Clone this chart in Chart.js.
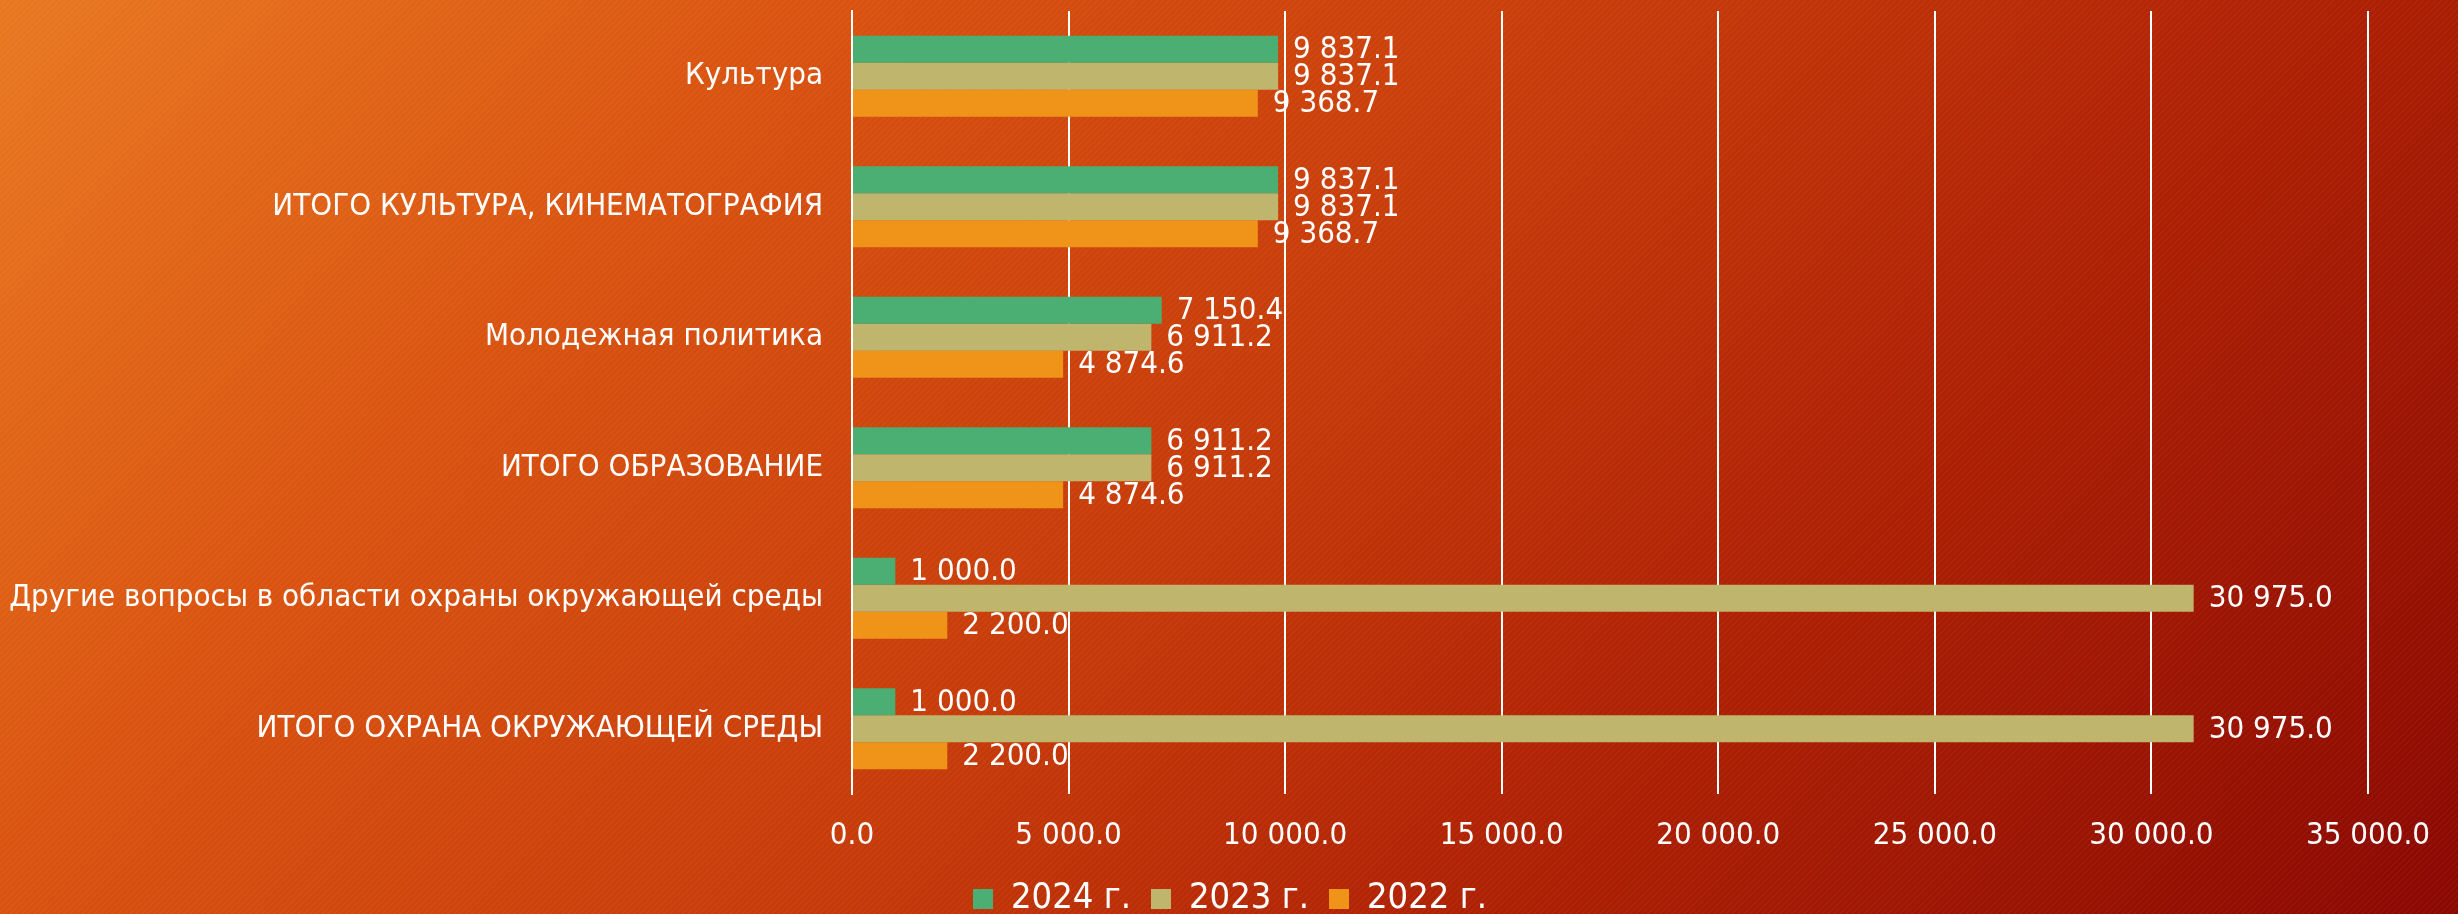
<!DOCTYPE html>
<html>
<head>
<meta charset="utf-8">
<script src="https://cdn.jsdelivr.net/npm/chart.js@4/dist/chart.umd.min.js"></script>
<style>
  html, body { margin: 0; padding: 0; overflow: hidden; background: #c63a09; }
  canvas { display: block; }
</style>
</head>
<body>
<canvas id="chart" width="2458" height="914"></canvas>
<script>
const categories = [
  'Культура',
  'ИТОГО КУЛЬТУРА, КИНЕМАТОГРАФИЯ',
  'Молодежная политика',
  'ИТОГО ОБРАЗОВАНИЕ',
  'Другие вопросы в области охраны окружающей среды',
  'ИТОГО ОХРАНА ОКРУЖАЮЩЕЙ СРЕДЫ'
];
const seriesNames = ['2024 г.', '2023 г.', '2022 г.'];
const values2024 = [9837.1, 9837.1, 7150.4, 6911.2, 1000.0, 1000.0];
const values2023 = [9837.1, 9837.1, 6911.2, 6911.2, 30975.0, 30975.0];
const values2022 = [9368.7, 9368.7, 4874.6, 4874.6, 2200.0, 2200.0];
const xTicks = [0, 5000, 10000, 15000, 20000, 25000, 30000, 35000];

const FONT = "'DejaVu Sans Condensed', 'DejaVu Sans', sans-serif";

// 9837.1 -> "9 837.1"
function fmt(v) {
  const parts = v.toFixed(1).split('.');
  return parts[0].replace(/\B(?=(\d{3})+(?!\d))/g, ' ') + '.' + parts[1];
}

const background = {
  id: 'background',
  beforeDraw(chart) {
    const { ctx, width, height } = chart;
    ctx.save();
    const g = ctx.createLinearGradient(0, 0, 1774, 1650);
    g.addColorStop(0, '#e97820');
    g.addColorStop(0.25, '#d9520f');
    g.addColorStop(0.5, '#c63a09');
    g.addColorStop(0.7, '#ae2003');
    g.addColorStop(1, '#8a0700');
    ctx.fillStyle = g;
    ctx.fillRect(0, 0, width, height);
    // faint diagonal stripes
    ctx.strokeStyle = 'rgba(255,255,255,0.04)';
    ctx.lineWidth = 2;
    ctx.beginPath();
    for (let x = -height; x < width; x += 6) {
      ctx.moveTo(x, height);
      ctx.lineTo(x + height, 0);
    }
    ctx.stroke();
    ctx.restore();
  }
};

// centre the legend on the page, not on the padded box
const legendShift = {
  id: 'legendShift',
  afterLayout(chart) {
    if (chart.legend) {
      chart.legend.left += 46;
      chart.legend.right += 46;
    }
  }
};

const valueLabels = {
  id: 'valueLabels',
  afterDatasetsDraw(chart) {
    const { ctx } = chart;
    ctx.save();
    ctx.font = '31px ' + FONT;
    ctx.fillStyle = '#ffffff';
    ctx.textAlign = 'left';
    ctx.textBaseline = 'middle';
    chart.data.datasets.forEach((ds, i) => {
      chart.getDatasetMeta(i).data.forEach((bar, j) => {
        ctx.fillText(fmt(ds.data[j]), bar.x + 15, bar.y + 1);
      });
    });
    ctx.restore();
  }
};

new Chart(document.getElementById('chart'), {
  type: 'bar',
  data: {
    labels: categories,
    datasets: [
      { label: seriesNames[0], data: values2024, backgroundColor: '#4baf73' },
      { label: seriesNames[1], data: values2023, backgroundColor: '#c0b56c' },
      { label: seriesNames[2], data: values2022, backgroundColor: '#ef9418' }
    ]
  },
  options: {
    indexAxis: 'y',
    responsive: false,
    animation: false,
    devicePixelRatio: 1,
    datasets: { bar: { categoryPercentage: 0.62, barPercentage: 1 } },
    layout: { padding: { top: 11, left: 0, right: 90, bottom: -13 } },
    scales: {
      x: {
        min: 0,
        max: 35000,
        afterBuildTicks: (s) => { s.ticks = xTicks.map(v => ({ value: v })); },
        afterFit: (s) => { s.height = 67; },
        grid: { color: '#ffffff', lineWidth: 2, drawTicks: false },
        border: { display: false },
        ticks: {
          color: '#ffffff',
          font: { family: FONT, size: 31 },
          padding: 23,
          maxRotation: 0,
          callback: (v) => fmt(v)
        }
      },
      y: {
        afterFit: (s) => { s.width = 852; s.paddingTop = 0; s.paddingBottom = 0; },
        grid: { display: false, drawTicks: false },
        border: { display: true, color: '#ffffff', width: 2 },
        ticks: {
          color: '#ffffff',
          font: { family: FONT, size: 31 },
          padding: 29
        }
      }
    },
    plugins: {
      legend: {
        position: 'bottom',
        labels: {
          color: '#ffffff',
          font: { family: FONT, size: 36 },
          boxWidth: 20,
          boxHeight: 20,
          padding: 20
        }
      },
      tooltip: { enabled: false }
    }
  },
  plugins: [background, legendShift, valueLabels]
});
</script>
</body>
</html>
